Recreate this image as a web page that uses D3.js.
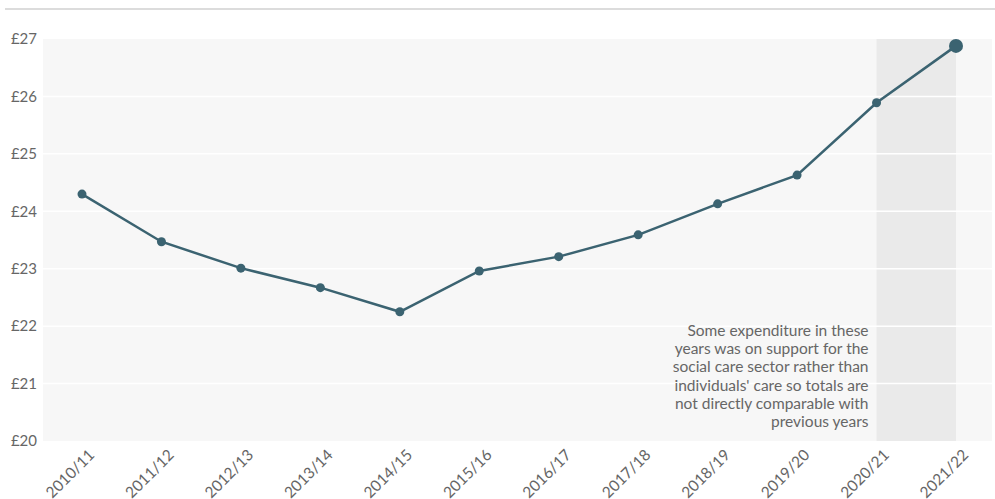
<!DOCTYPE html>
<html>
<head>
<meta charset="utf-8">
<script src="https://cdn.jsdelivr.net/npm/d3@7"></script>
<style>
  body { margin: 0; background: #fff; }
  svg { display: block; font-family: "Source Sans Pro", Lato, "Open Sans", sans-serif; }
</style>
</head>
<body>
<div class="chart"></div>
<script>
// data
const years = ["2010/11", "2011/12", "2012/13", "2013/14", "2014/15", "2015/16",
               "2016/17", "2017/18", "2018/19", "2019/20", "2020/21", "2021/22"]
const spend = [24.30, 23.47, 23.01, 22.67, 22.25, 22.96, 23.21, 23.59, 24.13, 24.63, 25.89, 26.88]
const yTicks = [20, 21, 22, 23, 24, 25, 26, 27]
const shadedYears = ["2020/21", "2021/22"]
const note = ["Some expenditure in these", "years was on support for the",
              "social care sector rather than", "individuals' care so totals are",
              "not directly comparable with", "previous years"]

const chart_param = {
    width: 995,
    height: 499,
    margin: { top: 39, right: 3, bottom: 58, left: 43 }
}

const x = d3.scalePoint()
            .domain(years)
            .range([82, 956])
const y = d3.scaleLinear()
            .domain([20, 27])
            .range([chart_param.height - chart_param.margin.bottom, chart_param.margin.top])

const svg = d3.select(".chart").append("svg")
    .attr("width", chart_param.width)
    .attr("height", chart_param.height)

// top rule
svg.append("line")
    .attr("x1", 5).attr("x2", 995)
    .attr("y1", 9).attr("y2", 9)
    .style("stroke", "#dcdcdc").style("stroke-width", 2)

// plot background
svg.append("rect")
    .attr("x", chart_param.margin.left)
    .attr("y", y(27))
    .attr("width", chart_param.width - chart_param.margin.right - chart_param.margin.left)
    .attr("height", y(20) - y(27))
    .style("fill", "#f7f7f7")

// shaded period
svg.append("rect")
    .attr("x", x(shadedYears[0]))
    .attr("y", y(27))
    .attr("width", x(shadedYears[1]) - x(shadedYears[0]))
    .attr("height", y(20) - y(27))
    .style("fill", "#eaeaea")

// gridlines
svg.selectAll(".grid")
    .data(yTicks.slice(1, -1)).enter()
    .append("line")
    .attr("x1", chart_param.margin.left)
    .attr("x2", chart_param.width - chart_param.margin.right)
    .attr("y1", d => y(d))
    .attr("y2", d => y(d))
    .style("stroke", "#fff")
    .style("stroke-width", 1.5)

// y axis labels
const yAxis = svg.append("g")
    .attr("transform", `translate(${chart_param.margin.left - 3},0)`)
    .call(d3.axisLeft(y).tickValues(yTicks).tickSize(0).tickFormat(d => "£" + d))
yAxis.select(".domain").remove()
yAxis.selectAll("text")
    .style("font-family", "\"Source Sans Pro\", Lato, \"Open Sans\", sans-serif")
    .style("font-size", "15px")
    .style("fill", "#666")

// x axis labels
const xAxis = svg.append("g")
    .attr("transform", `translate(0,${y(20) + 10})`)
    .call(d3.axisBottom(x).tickSize(0))
xAxis.select(".domain").remove()
xAxis.selectAll("text")
    .style("font-family", "\"Source Sans Pro\", Lato, \"Open Sans\", sans-serif")
    .style("font-size", "15.5px")
    .style("fill", "#666")
    .style("text-anchor", "end")
    .attr("dy", "0.35em")
    .attr("transform", "translate(7,-1) rotate(-45)")

// note
svg.append("text")
    .attr("x", x(shadedYears[0]) - 8)
    .attr("y", 336)
    .style("font-size", "15.5px")
    .style("fill", "#666")
    .style("text-anchor", "end")
    .selectAll("tspan")
    .data(note).enter()
    .append("tspan")
    .attr("x", x(shadedYears[0]) - 8)
    .attr("dy", (d, i) => i ? 18.2 : 0)
    .text(d => d)

// line
const line = d3.line()
    .x((d, i) => x(years[i]))
    .y(d => y(d))
svg.append("path")
    .datum(spend)
    .attr("d", line)
    .style("fill", "none")
    .style("stroke", "#3b6371")
    .style("stroke-width", 2.5)

svg.selectAll(".dot")
    .data(spend).enter()
    .append("circle")
    .classed("dot", true)
    .attr("cx", (d, i) => x(years[i]))
    .attr("cy", d => y(d))
    .attr("r", (d, i) => i === spend.length - 1 ? 7 : 4.5)
    .style("fill", "#3b6371")
</script>
</body>
</html>
